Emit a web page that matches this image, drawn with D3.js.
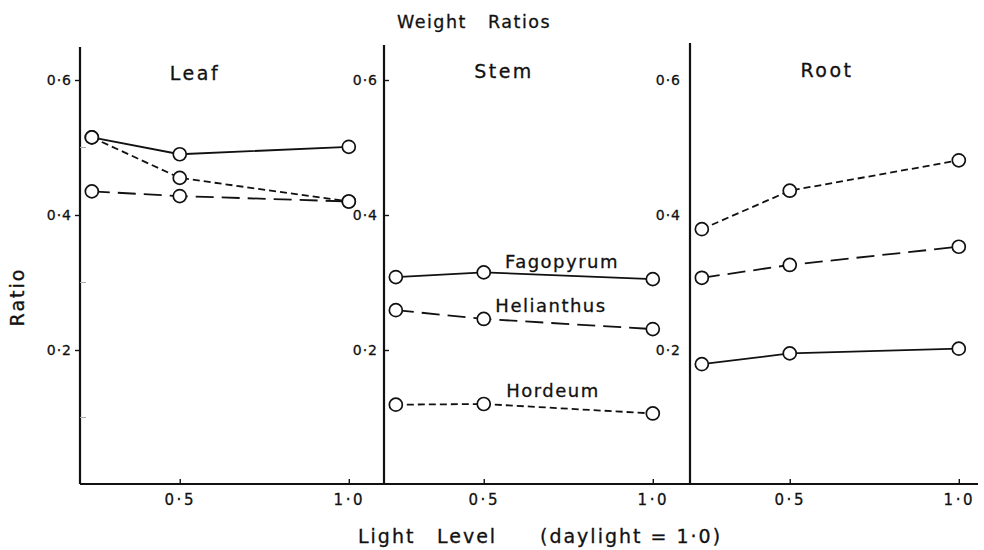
<!DOCTYPE html>
<html>
<head>
<meta charset="utf-8">
<script src="https://cdn.jsdelivr.net/npm/d3@7"></script>
<style>
  html, body { margin: 0; padding: 0; background: #fff; }
  svg { display: block; }
  text { font-family: "DejaVu Sans", sans-serif; fill: #111; stroke: #111; stroke-width: 0.3px; }
</style>
</head>
<body>
<svg id="chart" width="984" height="550"></svg>
<script>
// ---- data ----
const panels = ["Leaf", "Stem", "Root"];
const lightLevels = [0.24, 0.5, 1.0];
const xTicks = [0.5, 1.0];
const yTicks = [0.2, 0.4, 0.6];
const speciesNames = ["Fagopyrum", "Helianthus", "Hordeum"];
// values per panel: [Leaf, Stem, Root], each at lightLevels
const fagopyrum  = [[0.515, 0.490, 0.501], [0.308, 0.315, 0.305], [0.179, 0.195, 0.202]];
const helianthus = [[0.435, 0.428, 0.420], [0.259, 0.246, 0.231], [0.307, 0.326, 0.353]];
const hordeum    = [[0.515, 0.455, 0.420], [0.119, 0.120, 0.106], [0.379, 0.436, 0.481]];

const seriesData = [fagopyrum, helianthus, hordeum];
const dashes = [null, "18,8", "7,4"];

const svg = d3.select("#chart");
const fmt = d => d3.format(".1f")(d).replace(".", "·");

const axisX = [80, 384, 690];
const axisTop = [47, 45, 43];
const baseY = 484;
const y = d3.scaleLinear().domain([0, 0.6]).range([485, 80]);
const xScales = axisX.map(a => d3.scaleLinear().domain([0.205, 1.113]).range([a, a + 307]));

// title
svg.append("text").attr("x", 474).attr("y", 28).attr("text-anchor", "middle")
  .style("font-size", "17.5px").style("letter-spacing", "1.5px").style("white-space", "pre")
  .text("Weight   Ratios");

// baseline
svg.append("line").attr("x1", axisX[0]).attr("x2", 978).attr("y1", baseY).attr("y2", baseY)
  .attr("stroke", "#111").attr("stroke-width", 2.2);

panels.forEach((p, i) => {
  const x = xScales[i];
  const g = svg.append("g");

  // vertical axis line
  g.append("line").attr("x1", axisX[i]).attr("x2", axisX[i]).attr("y1", axisTop[i]).attr("y2", baseY)
    .attr("stroke", "#111").attr("stroke-width", 2.2);

  // y axis ticks + labels
  let ya = d3.axisLeft(y).tickValues(yTicks).tickFormat(fmt).tickSizeOuter(0);
  if (i === 0) ya = ya.tickSizeInner(5).tickPadding(3);
  else if (i === 1) ya = ya.tickSizeInner(-5).tickPadding(6);
  else ya = ya.tickSizeInner(0).tickPadding(9);
  const yg = g.append("g").attr("transform", `translate(${axisX[i]},0)`).call(ya);
  yg.select(".domain").remove();
  yg.selectAll("line").attr("stroke", "#111").attr("stroke-width", 1.4);
  yg.selectAll("text").attr("font-size", null).style("font-size", "14px").style("letter-spacing", "1px")
    .style("font-family", "DejaVu Sans, sans-serif").attr("fill", "#111");

  if (i === 0) {
    // faint minor ticks
    g.selectAll(".minor").data([0.1, 0.3, 0.5]).join("line")
      .attr("x1", axisX[i]).attr("x2", axisX[i] + 6)
      .attr("y1", d => y(d)).attr("y2", d => y(d))
      .attr("stroke", "#aaa").attr("stroke-width", 1);
  }

  // x axis ticks + labels
  const xa = d3.axisBottom(x).tickValues(xTicks).tickFormat(fmt).tickSizeInner(-5).tickSizeOuter(0).tickPadding(10);
  const xg = g.append("g").attr("transform", `translate(0,${baseY})`).call(xa);
  xg.select(".domain").remove();
  xg.selectAll("line").attr("stroke", "#111").attr("stroke-width", 1.4);
  xg.selectAll("text").style("font-size", "15px").style("letter-spacing", "2.5px")
    .style("font-family", "DejaVu Sans, sans-serif").attr("fill", "#111");

  // panel title
  const titleX = [195, 504, 827];
  const titleY = [80, 78, 77];
  g.append("text").attr("x", titleX[i]).attr("y", titleY[i]).attr("text-anchor", "middle")
    .style("font-size", "19px").style("letter-spacing", "2.5px").text(p);

  // lines
  const line = d3.line().x((d, j) => x(lightLevels[j])).y(d => y(d));
  seriesData.forEach((s, k) => {
    g.append("path").datum(s[i]).attr("d", line)
      .attr("fill", "none").attr("stroke", "#111").attr("stroke-width", 1.8)
      .attr("stroke-dasharray", dashes[k]);
  });
  seriesData.forEach((s, k) => {
    g.selectAll(null).data(s[i]).join("circle")
      .attr("cx", (d, j) => x(lightLevels[j])).attr("cy", d => y(d)).attr("r", 6.5)
      .attr("fill", "#fff").attr("stroke", "#111").attr("stroke-width", 1.7);
  });
});

// species labels in the Stem panel
const labelPos = [[562, 268], [551, 312], [553, 397]];
speciesNames.forEach((n, k) => {
  svg.append("text").attr("x", labelPos[k][0]).attr("y", labelPos[k][1]).attr("text-anchor", "middle")
    .style("font-size", "18px").style("letter-spacing", "1.5px").text(n);
});

// y axis title
svg.append("text").attr("transform", "translate(24,297) rotate(-90)").attr("text-anchor", "middle")
  .style("font-size", "19px").style("letter-spacing", "2px").text("Ratio");

// x axis title
const xt = svg.append("text").attr("y", 543).style("font-size", "19px").style("letter-spacing", "2px");
xt.append("tspan").attr("x", 358).text("Light");
xt.append("tspan").attr("x", 437).text("Level");
xt.append("tspan").attr("x", 540).style("white-space", "pre").text("(daylight = 1·0)");
</script>
</body>
</html>
